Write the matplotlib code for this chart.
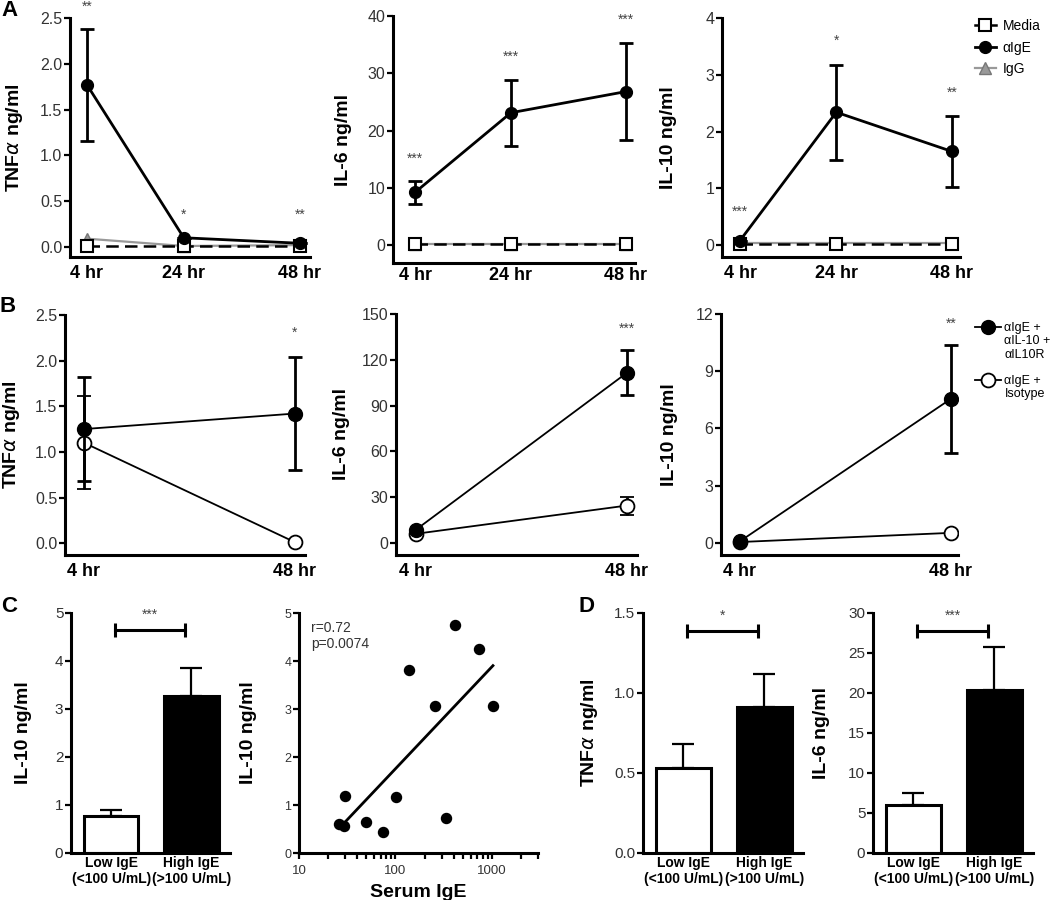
import numpy as np
import matplotlib
matplotlib.use('Agg')
import matplotlib.pyplot as plt
from matplotlib.lines import Line2D
from matplotlib.ticker import FixedLocator, FixedFormatter

plt.rcParams['font.family'] = ['Liberation Sans', 'DejaVu Sans']
plt.rcParams['mathtext.fontset'] = 'dejavusans'

# ---- data: panel A (time course, ng/ml) ----
times_a = [4, 24, 48]
tnf_media = [0.01, 0.01, 0.01]
tnf_ige = [1.77, 0.10, 0.04]
tnf_ige_err = [0.61, 0.0, 0.0]
tnf_igg = [0.09, 0.01, 0.02]
tnf_stars = ['**', '*', '**']
tnf_star_y = [2.62, 0.35, 0.35]

il6_media = [0.1, 0.1, 0.1]
il6_ige = [9.2, 23.1, 26.8]
il6_ige_err = [2.0, 5.8, 8.5]
il6_igg = [0.2, 0.2, 0.2]
il6_stars = ['***', '***', '***']
il6_star_y = [15.1, 32.8, 39.4]

il10_media = [0.02, 0.02, 0.02]
il10_ige = [0.08, 2.34, 1.65]
il10_ige_err = [0.0, 0.84, 0.62]
il10_igg = [0.03, 0.03, 0.03]
il10_stars = ['***', '*', '**']
il10_star_y = [0.59, 3.59, 2.68]

# ---- data: panel B (IL-10 blockade) ----
times_b = [4, 48]
b_tnf_block = [1.25, 1.42]
b_tnf_block_err = [0.57, 0.62]
b_tnf_iso = [1.10, 0.01]
b_tnf_iso_err = [0.51, 0.0]
b_il6_block = [8.7, 111.5]
b_il6_block_err = [0.0, 14.8]
b_il6_iso = [6.0, 24.5]
b_il6_iso_err = [0.0, 5.9]
b_il10_block = [0.09, 7.55]
b_il10_block_err = [0.0, 2.85]
b_il10_iso = [0.05, 0.53]
b_il10_iso_err = [0.0, 0.0]
b_stars = ['*', '***', '**']
b_star_y = [2.30, 140, 11.5]

# ---- data: panels C and D ----
groups = ['Low IgE\n(<100 U/mL)', 'High IgE\n(>100 U/mL)']
c_il10 = [0.78, 3.28]
c_il10_err = [0.12, 0.57]
serum_ige = [26, 29, 30, 50, 74, 102, 137, 259, 337, 411, 739, 1024]
il10_4hr = [0.61, 0.56, 1.18, 0.64, 0.44, 1.17, 3.81, 3.06, 0.73, 4.74, 4.26, 3.06]
d_tnf = [0.53, 0.91]
d_tnf_err = [0.15, 0.21]
d_il6 = [5.94, 20.36]
d_il6_err = [1.54, 5.4]

W, H = 1050, 900
fig = plt.figure(figsize=(10.5, 9), dpi=100)
TNF = 'TNF$\\alpha$ ng/ml'


def add_ax(l, t, r, b):
    return fig.add_axes([l / W, 1 - b / H, (r - l) / W, (b - t) / H])


def style(ax, ylabel, label_x, tick_size=11.5):
    for s in ['top', 'right']:
        ax.spines[s].set_visible(False)
    for s in ['left', 'bottom']:
        ax.spines[s].set_linewidth(2.2)
        ax.spines[s].set_capstyle('projecting')
    ax.tick_params(axis='y', length=4, width=1.6, pad=1.5,
                   labelsize=tick_size, labelcolor='#333333')
    ax.tick_params(axis='x', length=0, pad=6, labelsize=13)
    ax.set_ylabel(ylabel, fontsize=14, fontweight='bold')
    pos = ax.get_position()
    ax.yaxis.set_label_coords((label_x / W - pos.x0) / pos.width, 0.5)


def stars(ax, xs, ys, labels):
    for x, y, s in zip(xs, ys, labels):
        ax.text(x, y, s, ha='center', va='center', fontsize=10, color='#444444')


def time_panel(ax, media, ige, ige_err, igg, yticks):
    ax.plot(times_a, igg, color='#999999', lw=1.6, marker='^', ms=8,
            mfc='#999999', mec='#777777', zorder=3)
    ax.plot(times_a, media, color='black', lw=1.8, ls=(0, (5, 2.5)), marker='s',
            ms=8, mfc='white', mec='black', mew=1.5, zorder=4)
    ax.errorbar(times_a, ige, yerr=ige_err, color='black', lw=2, marker='o',
                ms=8.5, capsize=5, capthick=2, elinewidth=2, zorder=5)
    ax.set_yticks(yticks)
    ax.set_xticks(times_a, ['4 hr', '24 hr', '48 hr'], fontweight='bold')


def block_panel(ax, block, block_err, iso, iso_err, yticks):
    ax.errorbar(times_b, iso, yerr=iso_err, color='black', lw=1.3, marker='o',
                ms=10, mfc='white', mec='black', mew=1.3, capsize=5,
                capthick=2, elinewidth=2, zorder=4)
    ax.errorbar(times_b, block, yerr=block_err, color='black', lw=1.3,
                marker='o', ms=10, mfc='black', mec='black', capsize=5,
                capthick=2, elinewidth=2, zorder=5)
    ax.set_yticks(yticks)
    ax.set_xticks(times_b, ['4 hr', '48 hr'], fontweight='bold')


def bar_panel(ax, vals, errs, yticks, bracket_y, star, star_y):
    ax.bar([0, 1], vals, width=0.68, color=['white', 'black'],
           edgecolor='black', linewidth=2.2, zorder=2)
    ax.errorbar([0, 1], vals, yerr=[[0, 0], errs], fmt='none', ecolor='black',
                elinewidth=1.6, capsize=8, capthick=1.6, zorder=3)
    ax.plot([0.05, 0.92], [bracket_y, bracket_y], color='black', lw=2.2,
            marker='|', ms=10, mew=2.2)
    ax.text(0.485, star_y, star, ha='center', va='center', fontsize=10,
            color='#444444')
    ax.set_yticks(yticks)
    ax.set_xticks([0, 1], groups, fontsize=10, fontweight='bold')
    ax.set_xlim(-0.5, 1.48)


# ---------------- row A ----------------
axA1 = add_ax(70, 18, 310, 257)
time_panel(axA1, tnf_media, tnf_ige, tnf_ige_err, tnf_igg, np.arange(0, 2.51, 0.5))
axA1.set_yticklabels(['0.0', '0.5', '1.0', '1.5', '2.0', '2.5'])
axA1.set_ylim(-0.11, 2.5)
axA1.set_xlim(0.49, 50.07)
stars(axA1, times_a, tnf_star_y, tnf_stars)
style(axA1, TNF, 25)

axA2 = add_ax(393, 16, 635, 263)
time_panel(axA2, il6_media, il6_ige, il6_ige_err, il6_igg, [0, 10, 20, 30, 40])
axA2.set_ylim(-3.14, 40)
axA2.set_xlim(-0.6, 49.9)
stars(axA2, times_a, il6_star_y, il6_stars)
style(axA2, 'IL-6 ng/ml', 352)
axA2.tick_params(axis='x', pad=3)

axA3 = add_ax(722, 18, 960, 257)
time_panel(axA3, il10_media, il10_ige, il10_ige_err, il10_igg, [0, 1, 2, 3, 4])
axA3.set_ylim(-0.21, 4)
axA3.set_xlim(0.26, 49.7)
stars(axA3, times_a, il10_star_y, il10_stars)
style(axA3, 'IL-10 ng/ml', 677)

leg_a = [
    Line2D([], [], color='black', lw=1.8, marker='s', ms=8, mfc='white', mec='black', mew=1.5),
    Line2D([], [], color='black', lw=2, marker='o', ms=8.5),
    Line2D([], [], color='#999999', lw=1.6, marker='^', ms=8, mfc='#999999', mec='#777777'),
]
fig.legend(leg_a, ['Media', 'αIgE', 'IgG'], loc='upper left',
           bbox_to_anchor=(975 / W, 1 - 19 / H), frameon=False, fontsize=10,
           handlelength=1.5, labelspacing=0.55, handletextpad=0.5,
           borderaxespad=0, borderpad=0)

# ---------------- row B ----------------
axB1 = add_ax(65, 315, 305, 555)
block_panel(axB1, b_tnf_block, b_tnf_block_err, b_tnf_iso, b_tnf_iso_err,
            np.arange(0, 2.51, 0.5))
axB1.set_yticklabels(['0.0', '0.5', '1.0', '1.5', '2.0', '2.5'])
axB1.set_ylim(-0.13, 2.5)
axB1.set_xlim(0.04, 50.1)
stars(axB1, [48], [b_star_y[0]], [b_stars[0]])
style(axB1, TNF, 22)

axB2 = add_ax(396, 314, 637, 555)
block_panel(axB2, b_il6_block, b_il6_block_err, b_il6_iso, b_il6_iso_err,
            [0, 30, 60, 90, 120, 150])
axB2.set_ylim(-7.9, 150)
axB2.set_xlim(-0.17, 50.1)
stars(axB2, [48], [b_star_y[1]], [b_stars[1]])
style(axB2, 'IL-6 ng/ml', 350)

axB3 = add_ax(721, 314, 958, 555)
block_panel(axB3, b_il10_block, b_il10_block_err, b_il10_iso, b_il10_iso_err,
            [0, 3, 6, 9, 12])
axB3.set_ylim(-0.63, 12)
axB3.set_xlim(0.04, 49.5)
stars(axB3, [48], [b_star_y[2]], [b_stars[2]])
style(axB3, 'IL-10 ng/ml', 678)

# one legend row per text line so the marker sits beside the first line
blank = Line2D([], [], linestyle='none')
leg_b = [
    Line2D([], [], color='black', lw=1.3, marker='o', ms=10, mfc='black'),
    blank, blank, blank,
    Line2D([], [], color='black', lw=1.3, marker='o', ms=10, mfc='white', mew=1.3),
    blank,
]
fig.legend(leg_b, ['αIgE +', 'αIL-10 +', 'αIL10R', ' ', 'αIgE +', 'Isotype'],
           loc='upper left', bbox_to_anchor=(975 / W, 1 - 322 / H),
           frameon=False, fontsize=9, handlelength=2.1, labelspacing=0.1,
           handletextpad=0.25, borderaxespad=0, borderpad=0)

# ---------------- row C ----------------
axC1 = add_ax(71, 613, 230, 853)
bar_panel(axC1, c_il10, c_il10_err, [0, 1, 2, 3, 4, 5], 4.65, '***', 4.97)
axC1.set_ylim(0, 5)
style(axC1, 'IL-10 ng/ml', 32, tick_size=11)
axC1.tick_params(axis='x', labelsize=10, pad=2)

axC2 = add_ax(299, 613, 538, 853)
axC2.set_xscale('log')
axC2.scatter(serum_ige, il10_4hr, s=52, color='black', zorder=3)
coef = np.polyfit(np.log10(serum_ige), il10_4hr, 1)
fit_x = np.array([min(serum_ige), max(serum_ige)])
axC2.plot(fit_x, np.polyval(coef, np.log10(fit_x)), color='black', lw=2)
axC2.set_xlim(10, 3000)
axC2.set_ylim(0, 5)
axC2.set_yticks([0, 1, 2, 3, 4, 5])
axC2.xaxis.set_major_locator(FixedLocator([10, 100, 1000]))
axC2.xaxis.set_major_formatter(FixedFormatter(['10', '100', '1000']))
axC2.text(0.05, 0.967, 'r=0.72\np=0.0074', transform=axC2.transAxes,
          ha='left', va='top', fontsize=10, color='#333333', linespacing=1.15)
style(axC2, 'IL-10 ng/ml', 257, tick_size=9)
axC2.tick_params(axis='x', which='both', length=4.5, width=1.6, pad=4,
                 labelsize=9.5, labelcolor='#333333')
axC2.set_xlabel('Serum IgE', fontsize=14, fontweight='bold', labelpad=5)

# ---------------- row D ----------------
axD1 = add_ax(643, 613, 803, 853)
bar_panel(axD1, d_tnf, d_tnf_err, [0, 0.5, 1.0, 1.5], 1.39, '*', 1.48)
axD1.set_yticklabels(['0.0', '0.5', '1.0', '1.5'])
axD1.set_ylim(0, 1.5)
style(axD1, TNF, 600, tick_size=11)
axD1.tick_params(axis='x', labelsize=10, pad=2)

axD2 = add_ax(873, 613, 1033, 853)
bar_panel(axD2, d_il6, d_il6_err, [0, 5, 10, 15, 20, 25, 30], 27.8, '***', 29.6)
axD2.set_ylim(0, 30)
style(axD2, 'IL-6 ng/ml', 830, tick_size=11)
axD2.tick_params(axis='x', labelsize=10, pad=2)

# panel letters
for letter, px, py in [('A', 9, 11), ('B', 8, 307), ('C', 9, 606), ('D', 586, 606)]:
    fig.text(px / W, 1 - py / H, letter, fontsize=16, fontweight='bold',
             ha='center', va='center')

fig.savefig('out.png', dpi=100)
